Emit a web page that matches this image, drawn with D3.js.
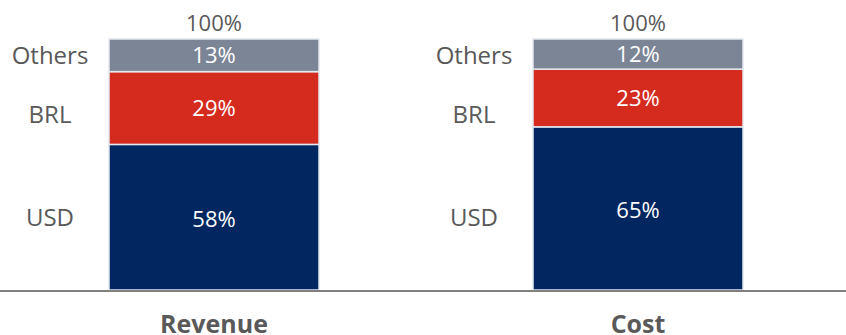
<!DOCTYPE html>
<html>
<head>
<meta charset="utf-8">
<script src="https://cdn.jsdelivr.net/npm/d3@7"></script>
<style>
  html, body { margin: 0; padding: 0; background: #ffffff; }
  svg { display: block; }
  text { font-family: "Open Sans", "Noto Sans", sans-serif; }
</style>
</head>
<body>
<svg id="chart" width="846" height="335"></svg>
<script>
// Currency mix of revenue and cost, in percent of the total
const categories = ["Revenue", "Cost"];
const currencies = ["USD", "BRL", "Others"];
const usdShare = [58, 65];
const brlShare = [29, 23];
const othersShare = [13, 12];
const totalLabels = ["100%", "100%"];

const colors = { USD: "#012660", BRL: "#d52b1f", Others: "#7b8595" };
const textColor = "#595959";

const chartWidth = 846;
const baseline = 290, plotTop = 39;
// vertical anchor (on the 0-100 scale) of each currency name beside the bars
const nameLevel = { USD: 29, BRL: 70, Others: 93.3 };

const rows = categories.map((c, i) => ({
  category: c,
  USD: usdShare[i],
  BRL: brlShare[i],
  Others: othersShare[i],
  total: totalLabels[i]
}));

const stacked = d3.stack().keys(currencies)(rows);

const x = d3.scaleBand()
  .domain(categories)
  .range([3, 849])
  .paddingInner(0.5047)
  .paddingOuter(0.25);

const y = d3.scaleLinear()
  .domain([0, 100])
  .range([baseline, plotTop]);

const svg = d3.select("#chart");

// stacked segments
const layers = svg.append("g").selectAll("g")
  .data(stacked)
  .join("g")
  .attr("fill", d => colors[d.key]);

layers.selectAll("rect")
  .data(d => d.map(v => Object.assign(v, { key: d.key })))
  .join("rect")
  .attr("x", d => x(d.data.category))
  .attr("width", x.bandwidth())
  .attr("y", d => y(d[1]))
  .attr("height", d => y(d[0]) - y(d[1]))
  .attr("stroke", "#e4e9f0")
  .attr("stroke-width", 1.5);

// value labels inside the segments
layers.selectAll("text")
  .data(d => d)
  .join("text")
  .attr("x", d => x(d.data.category) + x.bandwidth() / 2)
  .attr("y", d => (y(d[0]) + y(d[1])) / 2 + (d.key === "USD" ? 2 : 0))
  .attr("dy", "0.36em")
  .attr("text-anchor", "middle")
  .attr("fill", "#ffffff")
  .attr("font-size", 22)
  .text(d => d.data[d.key] + "%");

// currency names to the left of each bar
svg.append("g").selectAll("text")
  .data(categories.flatMap(c => currencies.map(k => ({ category: c, key: k }))))
  .join("text")
  .attr("x", d => x(d.category) - 59)
  .attr("y", d => y(nameLevel[d.key]))
  .attr("dy", "0.36em")
  .attr("text-anchor", "middle")
  .attr("fill", textColor)
  .attr("font-size", 24)
  .text(d => d.key);

// total above each bar
svg.append("g").selectAll("text")
  .data(rows)
  .join("text")
  .attr("x", d => x(d.category) + x.bandwidth() / 2)
  .attr("y", y(100) - 8)
  .attr("text-anchor", "middle")
  .attr("fill", textColor)
  .attr("font-size", 22)
  .text(d => d.total);

// baseline axis with category names
const axis = svg.append("g")
  .attr("transform", `translate(0,${baseline + 1})`)
  .call(d3.axisBottom(x).tickSize(0).tickPadding(24));
axis.select(".domain")
  .attr("d", `M0,0H${chartWidth}`)
  .attr("stroke", "#808080")
  .attr("stroke-width", 2);
axis.selectAll(".tick text")
  .attr("fill", textColor)
  .attr("font-size", 25)
  .attr("font-weight", "bold")
  .attr("font-family", "'Open Sans', sans-serif");
</script>
</body>
</html>
